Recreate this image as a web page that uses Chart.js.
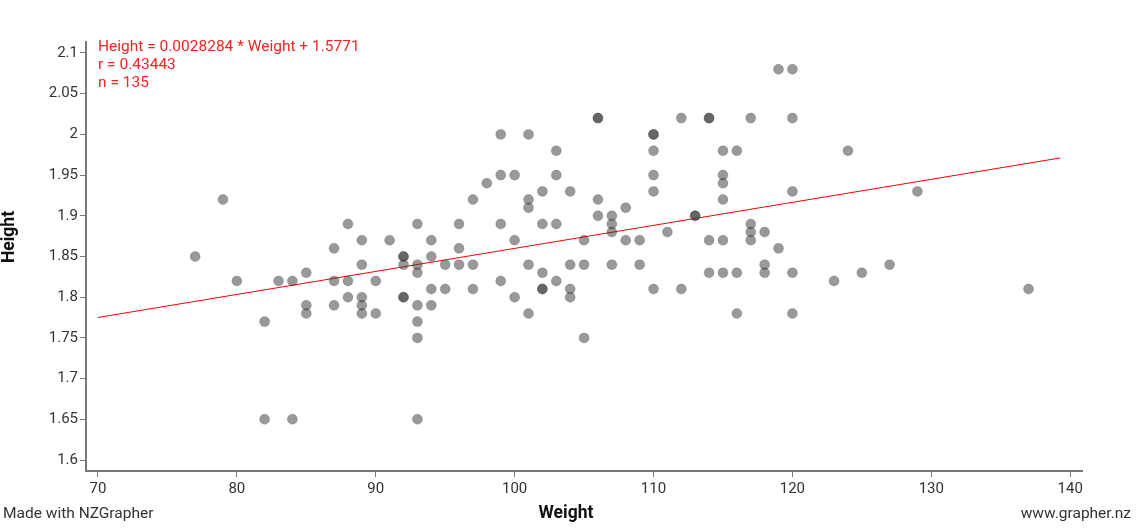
<!DOCTYPE html>
<html lang="en">
<head>
<meta charset="UTF-8">
<title>Height vs Weight</title>
<script src="https://cdn.jsdelivr.net/npm/chart.js@4.4.1/dist/chart.umd.min.js"></script>
<style>
  html, body { margin: 0; padding: 0; background: #fff; }
  #wrap { width: 1138px; height: 530px; }
</style>
<script>
// values
var weights = [
  77, 79, 80, 82, 82, 83, 84, 84, 85, 85, 85,
  87, 87, 87, 88, 88, 88, 89, 89, 89, 89, 89, 90, 90, 91,
  92, 92, 92, 92, 92, 93, 93, 93, 93, 93, 93, 93,
  94, 94, 94, 94, 95, 95, 96, 96, 96, 97, 97, 97, 98,
  99, 99, 99, 99, 100, 100, 100, 101, 101, 101, 101, 101,
  102, 102, 102, 102, 102, 103, 103, 103, 103, 104, 104, 104, 104,
  105, 105, 105, 106, 106, 106, 106, 107, 107, 107, 107,
  108, 108, 109, 109, 110, 110, 110, 110, 110, 110, 111, 112, 112,
  113, 113, 114, 114, 114, 114, 115, 115, 115, 115, 115, 115,
  116, 116, 116, 117, 117, 117, 117, 118, 118, 118, 119, 119,
  120, 120, 120, 120, 120, 123, 124, 125, 127, 129, 137
];
var heights = [
  1.85, 1.92, 1.82, 1.77, 1.65, 1.82, 1.82, 1.65, 1.83, 1.79, 1.78,
  1.86, 1.82, 1.79, 1.89, 1.82, 1.80, 1.87, 1.84, 1.80, 1.79, 1.78, 1.82, 1.78, 1.87,
  1.85, 1.85, 1.84, 1.80, 1.80, 1.89, 1.84, 1.83, 1.79, 1.77, 1.75, 1.65,
  1.87, 1.85, 1.81, 1.79, 1.84, 1.81, 1.89, 1.86, 1.84, 1.92, 1.84, 1.81, 1.94,
  2.00, 1.95, 1.89, 1.82, 1.95, 1.87, 1.80, 2.00, 1.92, 1.91, 1.84, 1.78,
  1.93, 1.89, 1.83, 1.81, 1.81, 1.98, 1.95, 1.89, 1.82, 1.93, 1.84, 1.81, 1.80,
  1.87, 1.84, 1.75, 2.02, 2.02, 1.92, 1.90, 1.90, 1.89, 1.88, 1.84,
  1.91, 1.87, 1.87, 1.84, 2.00, 2.00, 1.98, 1.95, 1.93, 1.81, 1.88, 2.02, 1.81,
  1.90, 1.90, 2.02, 2.02, 1.87, 1.83, 1.98, 1.95, 1.94, 1.92, 1.87, 1.83,
  1.98, 1.83, 1.78, 2.02, 1.89, 1.88, 1.87, 1.88, 1.84, 1.83, 2.08, 1.86,
  2.08, 2.02, 1.93, 1.83, 1.78, 1.82, 1.98, 1.83, 1.84, 1.93, 1.81
];

// ends of the red fitted line
var fitX = [70, 139.3];
var fitY = [1.7751, 1.9711];

var xTicks = [70, 80, 90, 100, 110, 120, 130, 140];
var yTicks = [1.6, 1.65, 1.7, 1.75, 1.8, 1.85, 1.9, 1.95, 2, 2.05, 2.1];

var fitLines = ['Height = 0.0028284 * Weight + 1.5771', 'r = 0.43443', 'n = 135'];
</script>
</head>
<body>
<div id="wrap"><canvas id="scatter"></canvas></div>
<script>
Chart.defaults.font.family = 'Roboto';
Chart.defaults.font.size = 15;
Chart.defaults.color = '#333';

var points = weights.map(function(w, i) { return {x: w, y: heights[i]}; });
var fitPoints = fitX.map(function(x, i) { return {x: x, y: fitY[i]}; });

// red regression text, axis titles and footer lines
var extraText = {
  id: 'extraText',
  afterDraw: function(chart) {
    var ctx = chart.ctx;
    ctx.save();
    ctx.font = '15.5px Roboto';
    ctx.textBaseline = 'middle';
    ctx.fillStyle = '#ff2020';
    ctx.textAlign = 'left';
    fitLines.forEach(function(t, i) {
      ctx.fillText(t, 98, 47 + i * 18);
    });
    ctx.fillStyle = '#333';
    ctx.fillText('Made with NZGrapher', 3, 514);
    ctx.textAlign = 'right';
    ctx.fillText('www.grapher.nz', 1131, 514);

    ctx.font = 'bold 17.5px Roboto';
    ctx.fillStyle = '#111';
    ctx.textAlign = 'center';
    ctx.fillText('Weight', 566, 514);
    ctx.translate(10, 237);
    ctx.rotate(-Math.PI / 2);
    ctx.fillText('Height', 0, 0);
    ctx.restore();
  }
};

new Chart(document.getElementById('scatter'), {
  type: 'scatter',
  data: {
    datasets: [
      {
        label: 'Height',
        data: points,
        backgroundColor: 'rgba(51,51,51,0.5)',
        borderColor: 'rgba(51,51,51,0.2)',
        borderWidth: 1,
        pointRadius: 5,
        clip: false
      },
      {
        type: 'line',
        label: 'fit',
        data: fitPoints,
        borderColor: '#ff0000',
        borderWidth: 1,
        pointRadius: 0,
        fill: false
      }
    ]
  },
  options: {
    responsive: true,
    maintainAspectRatio: false,
    animation: false,
    events: [],
    layout: { padding: { left: 0, right: 56, top: 42, bottom: 0 } },
    plugins: {
      legend: { display: false },
      tooltip: { enabled: false }
    },
    scales: {
      x: {
        type: 'linear',
        min: 69.14,
        max: 140.85,
        afterBuildTicks: function(scale) {
          scale.ticks = xTicks.map(function(v) { return {value: v}; });
        },
        afterFit: function(scale) { scale.height = 59; },
        grid: { drawOnChartArea: false, drawTicks: true, tickLength: 6, color: '#777', lineWidth: 1 },
        border: { display: true, color: '#777', width: 2 },
        ticks: { padding: 3, color: '#333', font: { size: 15 } },
        title: { display: false }
      },
      y: {
        type: 'linear',
        min: 1.5865,
        max: 2.1135,
        afterBuildTicks: function(scale) {
          scale.ticks = yTicks.map(function(v) { return {value: v}; });
        },
        afterFit: function(scale) { scale.width = 86; },
        grid: { drawOnChartArea: false, drawTicks: true, tickLength: 6, color: '#777', lineWidth: 1 },
        border: { display: true, color: '#777', width: 2 },
        ticks: {
          padding: 2, color: '#333', font: { size: 15 },
          callback: function(v) { return String(+v.toFixed(2)); }
        },
        title: { display: false }
      }
    }
  },
  plugins: [extraText]
});
</script>
</body>
</html>
